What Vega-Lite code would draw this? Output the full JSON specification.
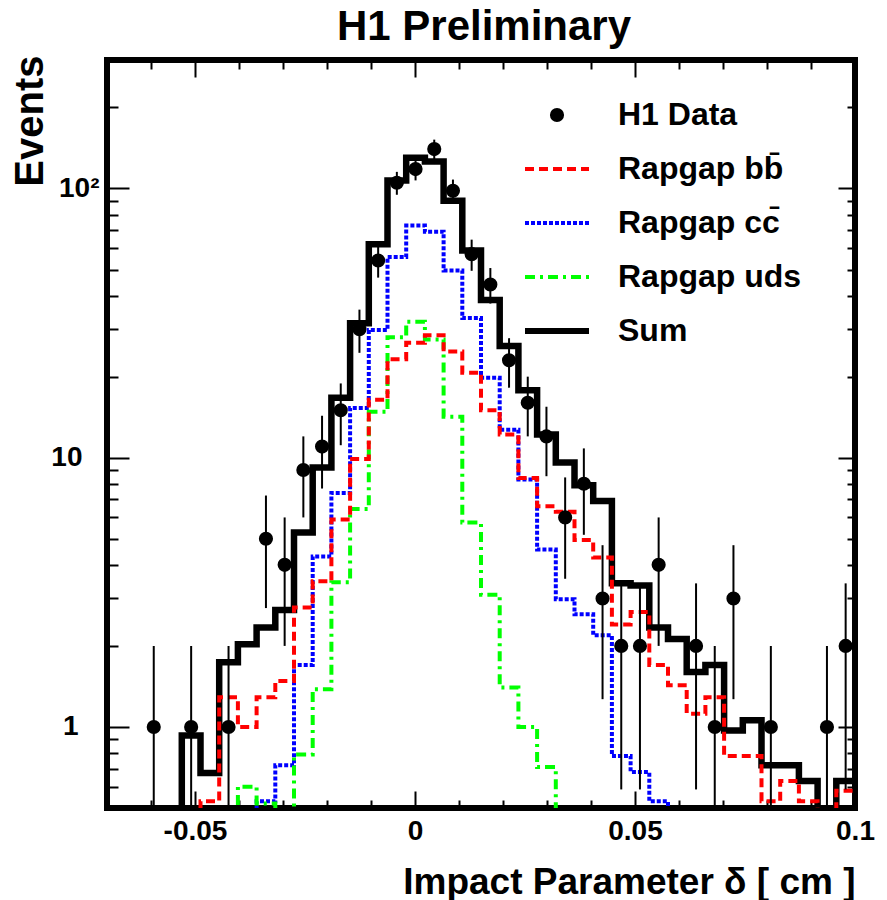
{
  "$schema": "https://vega.github.io/schema/vega-lite/v6.json",
  "width": 748,
  "height": 748,
  "autosize": {"type": "none"},
  "padding": {"left": 107, "top": 60, "right": 32, "bottom": 92},
  "background": "white",
  "title": {"text": "H1 Preliminary", "font": "Liberation Sans", "fontSize": 42, "fontWeight": "bold", "anchor": "middle", "frame": "group", "baseline": "alphabetic", "offset": -27, "dx": 3, "color": "black"},
  "config": {
    "view": {"stroke": "black", "strokeWidth": 6},
    "axis": {"grid": false, "domain": false, "tickColor": "black", "tickWidth": 2, "labelColor": "black", "labelFont": "Liberation Sans", "labelFontWeight": "bold", "labelFontSize": 28, "titleFont": "Liberation Sans", "titleFontWeight": "bold", "titleColor": "black"}
  },
  "datasets": {
    "hist": [
      {"x": -0.07, "s": "Sum", "v": 0.1}, {"x": -0.06575, "s": "Sum", "v": 0.1}, {"x": -0.0615, "s": "Sum", "v": 0.1}, {"x": -0.05725, "s": "Sum", "v": 0.1},
      {"x": -0.053, "s": "Sum", "v": 0.93}, {"x": -0.04875, "s": "Sum", "v": 0.675}, {"x": -0.0445, "s": "Sum", "v": 1.74}, {"x": -0.04025, "s": "Sum", "v": 2.03},
      {"x": -0.036, "s": "Sum", "v": 2.34}, {"x": -0.03175, "s": "Sum", "v": 2.72}, {"x": -0.0275, "s": "Sum", "v": 5.27}, {"x": -0.02325, "s": "Sum", "v": 9.2},
      {"x": -0.019, "s": "Sum", "v": 16.7}, {"x": -0.01475, "s": "Sum", "v": 31.6}, {"x": -0.0105, "s": "Sum", "v": 62}, {"x": -0.00625, "s": "Sum", "v": 107},
      {"x": -0.002, "s": "Sum", "v": 130}, {"x": 0.00225, "s": "Sum", "v": 126}, {"x": 0.0065, "s": "Sum", "v": 90}, {"x": 0.01075, "s": "Sum", "v": 58.8},
      {"x": 0.015, "s": "Sum", "v": 38.5}, {"x": 0.01925, "s": "Sum", "v": 26}, {"x": 0.0235, "s": "Sum", "v": 17.8}, {"x": 0.02775, "s": "Sum", "v": 12.2},
      {"x": 0.032, "s": "Sum", "v": 9.6}, {"x": 0.03625, "s": "Sum", "v": 7.9}, {"x": 0.0405, "s": "Sum", "v": 6.9}, {"x": 0.04475, "s": "Sum", "v": 3.42},
      {"x": 0.049, "s": "Sum", "v": 3.35}, {"x": 0.05325, "s": "Sum", "v": 2.34}, {"x": 0.0575, "s": "Sum", "v": 2.12}, {"x": 0.06175, "s": "Sum", "v": 1.6},
      {"x": 0.066, "s": "Sum", "v": 1.7}, {"x": 0.07025, "s": "Sum", "v": 0.97}, {"x": 0.0745, "s": "Sum", "v": 1.06}, {"x": 0.07875, "s": "Sum", "v": 0.72},
      {"x": 0.083, "s": "Sum", "v": 0.72}, {"x": 0.08725, "s": "Sum", "v": 0.63}, {"x": 0.0915, "s": "Sum", "v": 0.1}, {"x": 0.09575, "s": "Sum", "v": 0.63},
      {"x": 0.1, "s": "Sum", "v": 0.63},

      {"x": -0.07, "s": "Rapgap cc̄", "v": 0.1}, {"x": -0.06575, "s": "Rapgap cc̄", "v": 0.1}, {"x": -0.0615, "s": "Rapgap cc̄", "v": 0.1}, {"x": -0.05725, "s": "Rapgap cc̄", "v": 0.1},
      {"x": -0.053, "s": "Rapgap cc̄", "v": 0.1}, {"x": -0.04875, "s": "Rapgap cc̄", "v": 0.1}, {"x": -0.0445, "s": "Rapgap cc̄", "v": 0.1}, {"x": -0.04025, "s": "Rapgap cc̄", "v": 0.1},
      {"x": -0.036, "s": "Rapgap cc̄", "v": 0.53}, {"x": -0.03175, "s": "Rapgap cc̄", "v": 0.72}, {"x": -0.0275, "s": "Rapgap cc̄", "v": 1.7}, {"x": -0.02325, "s": "Rapgap cc̄", "v": 4.3},
      {"x": -0.019, "s": "Rapgap cc̄", "v": 7.4}, {"x": -0.01475, "s": "Rapgap cc̄", "v": 15.3}, {"x": -0.0105, "s": "Rapgap cc̄", "v": 29.8}, {"x": -0.00625, "s": "Rapgap cc̄", "v": 55.7},
      {"x": -0.002, "s": "Rapgap cc̄", "v": 72.8}, {"x": 0.00225, "s": "Rapgap cc̄", "v": 69}, {"x": 0.0065, "s": "Rapgap cc̄", "v": 49.6}, {"x": 0.01075, "s": "Rapgap cc̄", "v": 33},
      {"x": 0.015, "s": "Rapgap cc̄", "v": 19.8}, {"x": 0.01925, "s": "Rapgap cc̄", "v": 12.7}, {"x": 0.0235, "s": "Rapgap cc̄", "v": 8.3}, {"x": 0.02775, "s": "Rapgap cc̄", "v": 4.56},
      {"x": 0.032, "s": "Rapgap cc̄", "v": 2.98}, {"x": 0.03625, "s": "Rapgap cc̄", "v": 2.62}, {"x": 0.0405, "s": "Rapgap cc̄", "v": 2.19}, {"x": 0.04475, "s": "Rapgap cc̄", "v": 0.78},
      {"x": 0.049, "s": "Rapgap cc̄", "v": 0.68}, {"x": 0.05325, "s": "Rapgap cc̄", "v": 0.53}, {"x": 0.0575, "s": "Rapgap cc̄", "v": 0.1}, {"x": 0.06175, "s": "Rapgap cc̄", "v": 0.1},
      {"x": 0.066, "s": "Rapgap cc̄", "v": 0.1}, {"x": 0.07025, "s": "Rapgap cc̄", "v": 0.1}, {"x": 0.0745, "s": "Rapgap cc̄", "v": 0.1}, {"x": 0.07875, "s": "Rapgap cc̄", "v": 0.1},
      {"x": 0.083, "s": "Rapgap cc̄", "v": 0.1}, {"x": 0.08725, "s": "Rapgap cc̄", "v": 0.1}, {"x": 0.0915, "s": "Rapgap cc̄", "v": 0.1}, {"x": 0.09575, "s": "Rapgap cc̄", "v": 0.1},
      {"x": 0.1, "s": "Rapgap cc̄", "v": 0.1},

      {"x": -0.07, "s": "Rapgap uds", "v": 0.1}, {"x": -0.06575, "s": "Rapgap uds", "v": 0.1}, {"x": -0.0615, "s": "Rapgap uds", "v": 0.1}, {"x": -0.05725, "s": "Rapgap uds", "v": 0.1},
      {"x": -0.053, "s": "Rapgap uds", "v": 0.1}, {"x": -0.04875, "s": "Rapgap uds", "v": 0.1}, {"x": -0.0445, "s": "Rapgap uds", "v": 0.1}, {"x": -0.04025, "s": "Rapgap uds", "v": 0.6},
      {"x": -0.036, "s": "Rapgap uds", "v": 0.52}, {"x": -0.03175, "s": "Rapgap uds", "v": 0.48}, {"x": -0.0275, "s": "Rapgap uds", "v": 0.79}, {"x": -0.02325, "s": "Rapgap uds", "v": 1.38},
      {"x": -0.019, "s": "Rapgap uds", "v": 3.45}, {"x": -0.01475, "s": "Rapgap uds", "v": 6.45}, {"x": -0.0105, "s": "Rapgap uds", "v": 14.8}, {"x": -0.00625, "s": "Rapgap uds", "v": 28},
      {"x": -0.002, "s": "Rapgap uds", "v": 32}, {"x": 0.00225, "s": "Rapgap uds", "v": 27.5}, {"x": 0.0065, "s": "Rapgap uds", "v": 14.2}, {"x": 0.01075, "s": "Rapgap uds", "v": 5.74},
      {"x": 0.015, "s": "Rapgap uds", "v": 3.1}, {"x": 0.01925, "s": "Rapgap uds", "v": 1.4}, {"x": 0.0235, "s": "Rapgap uds", "v": 1.0}, {"x": 0.02775, "s": "Rapgap uds", "v": 0.71},
      {"x": 0.032, "s": "Rapgap uds", "v": 0.1}, {"x": 0.03625, "s": "Rapgap uds", "v": 0.1}, {"x": 0.0405, "s": "Rapgap uds", "v": 0.1}, {"x": 0.04475, "s": "Rapgap uds", "v": 0.1},
      {"x": 0.049, "s": "Rapgap uds", "v": 0.1}, {"x": 0.05325, "s": "Rapgap uds", "v": 0.1}, {"x": 0.0575, "s": "Rapgap uds", "v": 0.1}, {"x": 0.06175, "s": "Rapgap uds", "v": 0.1},
      {"x": 0.066, "s": "Rapgap uds", "v": 0.1}, {"x": 0.07025, "s": "Rapgap uds", "v": 0.1}, {"x": 0.0745, "s": "Rapgap uds", "v": 0.1}, {"x": 0.07875, "s": "Rapgap uds", "v": 0.1},
      {"x": 0.083, "s": "Rapgap uds", "v": 0.1}, {"x": 0.08725, "s": "Rapgap uds", "v": 0.1}, {"x": 0.0915, "s": "Rapgap uds", "v": 0.1}, {"x": 0.09575, "s": "Rapgap uds", "v": 0.1},
      {"x": 0.1, "s": "Rapgap uds", "v": 0.1},

      {"x": -0.07, "s": "Rapgap bb̄", "v": 0.1}, {"x": -0.06575, "s": "Rapgap bb̄", "v": 0.1}, {"x": -0.0615, "s": "Rapgap bb̄", "v": 0.1}, {"x": -0.05725, "s": "Rapgap bb̄", "v": 0.1},
      {"x": -0.053, "s": "Rapgap bb̄", "v": 0.1}, {"x": -0.04875, "s": "Rapgap bb̄", "v": 0.53}, {"x": -0.0445, "s": "Rapgap bb̄", "v": 1.29}, {"x": -0.04025, "s": "Rapgap bb̄", "v": 1.0},
      {"x": -0.036, "s": "Rapgap bb̄", "v": 1.29}, {"x": -0.03175, "s": "Rapgap bb̄", "v": 1.48}, {"x": -0.0275, "s": "Rapgap bb̄", "v": 2.78}, {"x": -0.02325, "s": "Rapgap bb̄", "v": 3.48},
      {"x": -0.019, "s": "Rapgap bb̄", "v": 5.9}, {"x": -0.01475, "s": "Rapgap bb̄", "v": 9.9}, {"x": -0.0105, "s": "Rapgap bb̄", "v": 16.4}, {"x": -0.00625, "s": "Rapgap bb̄", "v": 23.2},
      {"x": -0.002, "s": "Rapgap bb̄", "v": 26.7}, {"x": 0.00225, "s": "Rapgap bb̄", "v": 28.5}, {"x": 0.0065, "s": "Rapgap bb̄", "v": 24.8}, {"x": 0.01075, "s": "Rapgap bb̄", "v": 20.7},
      {"x": 0.015, "s": "Rapgap bb̄", "v": 15}, {"x": 0.01925, "s": "Rapgap bb̄", "v": 12.2}, {"x": 0.0235, "s": "Rapgap bb̄", "v": 8.4}, {"x": 0.02775, "s": "Rapgap bb̄", "v": 6.6},
      {"x": 0.032, "s": "Rapgap bb̄", "v": 6.3}, {"x": 0.03625, "s": "Rapgap bb̄", "v": 4.95}, {"x": 0.0405, "s": "Rapgap bb̄", "v": 4.26}, {"x": 0.04475, "s": "Rapgap bb̄", "v": 2.4},
      {"x": 0.049, "s": "Rapgap bb̄", "v": 2.67}, {"x": 0.05325, "s": "Rapgap bb̄", "v": 1.7}, {"x": 0.0575, "s": "Rapgap bb̄", "v": 1.43}, {"x": 0.06175, "s": "Rapgap bb̄", "v": 1.12},
      {"x": 0.066, "s": "Rapgap bb̄", "v": 1.29}, {"x": 0.07025, "s": "Rapgap bb̄", "v": 0.78}, {"x": 0.0745, "s": "Rapgap bb̄", "v": 0.78}, {"x": 0.07875, "s": "Rapgap bb̄", "v": 0.53},
      {"x": 0.083, "s": "Rapgap bb̄", "v": 0.63}, {"x": 0.08725, "s": "Rapgap bb̄", "v": 0.53}, {"x": 0.0915, "s": "Rapgap bb̄", "v": 0.1}, {"x": 0.09575, "s": "Rapgap bb̄", "v": 0.58},
      {"x": 0.1, "s": "Rapgap bb̄", "v": 0.58}
    ],
    "pts": [
      {"c": -0.059375, "n": 1, "lo": 0.01, "hi": 2},
      {"c": -0.050875, "n": 1, "lo": 0.01, "hi": 2},
      {"c": -0.042375, "n": 1, "lo": 0.01, "hi": 2},
      {"c": -0.033875, "n": 5, "lo": 2.764, "hi": 7.236},
      {"c": -0.029625, "n": 4, "lo": 2, "hi": 6},
      {"c": -0.025375, "n": 9, "lo": 6, "hi": 12},
      {"c": -0.021125, "n": 11, "lo": 7.683, "hi": 14.317},
      {"c": -0.016875, "n": 15, "lo": 11.127, "hi": 18.873},
      {"c": -0.012625, "n": 30, "lo": 24.523, "hi": 35.477},
      {"c": -0.008375, "n": 54, "lo": 46.652, "hi": 61.348},
      {"c": -0.004125, "n": 105, "lo": 94.753, "hi": 115.247},
      {"c": 0.000125, "n": 118, "lo": 107.137, "hi": 128.863},
      {"c": 0.004375, "n": 140, "lo": 128.168, "hi": 151.832},
      {"c": 0.008625, "n": 98, "lo": 88.1, "hi": 107.9},
      {"c": 0.012875, "n": 57, "lo": 49.45, "hi": 64.55},
      {"c": 0.017125, "n": 44, "lo": 37.367, "hi": 50.633},
      {"c": 0.021375, "n": 23, "lo": 18.204, "hi": 27.796},
      {"c": 0.025625, "n": 16, "lo": 12, "hi": 20},
      {"c": 0.029875, "n": 12, "lo": 8.536, "hi": 15.464},
      {"c": 0.034125, "n": 6, "lo": 3.551, "hi": 8.449},
      {"c": 0.038375, "n": 8, "lo": 5.172, "hi": 10.828},
      {"c": 0.042625, "n": 3, "lo": 1.268, "hi": 4.732},
      {"c": 0.046875, "n": 2, "lo": 0.586, "hi": 3.414},
      {"c": 0.051125, "n": 2, "lo": 0.586, "hi": 3.414},
      {"c": 0.055375, "n": 4, "lo": 2, "hi": 6},
      {"c": 0.063875, "n": 2, "lo": 0.586, "hi": 3.414},
      {"c": 0.068125, "n": 1, "lo": 0.01, "hi": 2},
      {"c": 0.072375, "n": 3, "lo": 1.268, "hi": 4.732},
      {"c": 0.080875, "n": 1, "lo": 0.01, "hi": 2},
      {"c": 0.093625, "n": 1, "lo": 0.01, "hi": 2},
      {"c": 0.097875, "n": 2, "lo": 0.586, "hi": 3.414}
    ]
  },
  "layer": [
    {
      "data": {"name": "hist"},
      "mark": {"type": "line", "interpolate": "step-after", "clip": true},
      "encoding": {
        "x": {"field": "x", "type": "quantitative", "scale": {"domain": [-0.07, 0.1], "nice": false, "zero": false},
          "axis": {"orient": "bottom", "values": [-0.05, 0, 0.05, 0.1], "ticks": false, "labelPadding": 9, "labelFlush": false, "labelOverlap": false, "labelBound": false,
            "labelExpr": "datum.value < -0.02 ? '-0.05' : (datum.value < 0.02 ? '0' : (datum.value < 0.07 ? '0.05' : '0.1'))",
            "title": "Impact Parameter δ [ cm ]", "titleFontSize": 37, "titleAlign": "right", "titleBaseline": "alphabetic", "titleX": 748, "titleY": 85, "titleAngle": 0}},
        "y": {"field": "v", "type": "quantitative", "scale": {"type": "log", "domain": [0.5, 300], "nice": false},
          "axis": {"orient": "left", "values": [1, 10, 100], "ticks": false, "labelOverlap": false, "labelFlush": false,
            "labelExpr": "datum.value > 50 ? '10²' : (datum.value > 5 ? '10' : '1')",
            "labelPadding": {"condition": [{"test": "datum.value > 50", "value": 8}, {"test": "datum.value > 5", "value": 25}], "value": 29},
            "title": "Events", "titleFontSize": 40, "titleAngle": 270, "titleAlign": "right", "titleBaseline": "middle", "titleX": -77, "titleY": -5}},
        "color": {"field": "s", "type": "nominal",
          "scale": {"domain": ["H1 Data", "Rapgap bb̄", "Rapgap cc̄", "Rapgap uds", "Sum"], "range": ["black", "#ff0000", "#0000ff", "#00ff00", "black"]},
          "legend": {"orient": "none", "legendX": 434, "legendY": 39, "title": null, "padding": 0, "symbolSize": 1024, "labelFont": "Liberation Sans", "labelFontSize": 32, "labelFontWeight": "bold", "labelColor": "black", "labelOffset": 45, "rowPadding": 22, "labelLimit": 0,
            "encode": {"symbols": {"update": {
              "shape": {"signal": "datum.value === 'H1 Data' ? 'circle' : 'M-2,0H2'"},
              "size": {"signal": "datum.value === 'H1 Data' ? 200 : 1024"},
              "fill": {"signal": "datum.value === 'H1 Data' ? 'black' : 'transparent'"},
              "strokeWidth": {"signal": "datum.value === 'H1 Data' ? 0 : (datum.value === 'Sum' ? 6 : 4)"}
            }}}}},
        "strokeDash": {"field": "s", "type": "nominal",
          "scale": {"domain": ["H1 Data", "Rapgap bb̄", "Rapgap cc̄", "Rapgap uds", "Sum"], "range": [[1, 0], [9, 5], [4, 2], [10, 5, 3, 5], [1, 0]]},
          "legend": {"orient": "none", "legendX": 434, "legendY": 39, "title": null, "padding": 0, "symbolSize": 1024, "labelFont": "Liberation Sans", "labelFontSize": 32, "labelFontWeight": "bold", "labelColor": "black", "labelOffset": 45, "rowPadding": 22, "labelLimit": 0,
            "encode": {"symbols": {"update": {
              "shape": {"signal": "datum.value === 'H1 Data' ? 'circle' : 'M-2,0H2'"},
              "size": {"signal": "datum.value === 'H1 Data' ? 200 : 1024"},
              "fill": {"signal": "datum.value === 'H1 Data' ? 'black' : 'transparent'"},
              "strokeWidth": {"signal": "datum.value === 'H1 Data' ? 0 : (datum.value === 'Sum' ? 6 : 4)"}
            }}}}},
        "strokeWidth": {"condition": {"test": "datum.s === 'Sum'", "value": 6.5}, "value": 4}
      }
    },
    {
      "data": {"name": "pts"},
      "mark": {"type": "rule", "strokeWidth": 2, "color": "black", "clip": true},
      "encoding": {
        "x": {"field": "c", "type": "quantitative", "scale": {"domain": [-0.07, 0.1], "nice": false, "zero": false},
          "axis": {"orient": "bottom", "values": [-0.05, 0, 0.05, 0.1], "labels": false, "tickSize": -17, "title": null}},
        "y": {"field": "lo", "type": "quantitative", "scale": {"type": "log", "domain": [0.5, 300], "nice": false},
          "axis": {"orient": "left", "values": [1, 10, 100], "labels": false, "tickSize": -22, "title": null}},
        "y2": {"field": "hi"}
      }
    },
    {
      "data": {"name": "pts"},
      "mark": {"type": "point", "filled": true, "shape": "circle", "size": 200, "color": "black", "opacity": 1},
      "encoding": {
        "x": {"field": "c", "type": "quantitative", "scale": {"domain": [-0.07, 0.1], "nice": false, "zero": false},
          "axis": {"orient": "bottom", "values": [-0.06, -0.04, -0.03, -0.02, -0.01, 0.01, 0.02, 0.03, 0.04, 0.06, 0.07, 0.08, 0.09], "labels": false, "tickSize": -8, "title": null}},
        "y": {"field": "n", "type": "quantitative", "scale": {"type": "log", "domain": [0.5, 300], "nice": false},
          "axis": {"orient": "left", "values": [0.6, 0.7, 0.8, 0.9, 2, 3, 4, 5, 6, 7, 8, 9, 20, 30, 40, 50, 60, 70, 80, 90, 200], "labels": false, "tickSize": -11, "title": null}}
      }
    },
    {
      "data": {"name": "pts"},
      "mark": {"type": "point", "opacity": 0},
      "encoding": {
        "x": {"field": "c", "type": "quantitative", "scale": {"domain": [-0.07, 0.1], "nice": false, "zero": false},
          "axis": {"orient": "top", "values": [-0.05, 0, 0.05, 0.1], "labels": false, "tickSize": -17, "title": null}},
        "y": {"field": "n", "type": "quantitative", "scale": {"type": "log", "domain": [0.5, 300], "nice": false},
          "axis": {"orient": "right", "values": [1, 10, 100], "labels": false, "tickSize": -17, "title": null}}
      }
    },
    {
      "data": {"name": "pts"},
      "mark": {"type": "point", "opacity": 0},
      "encoding": {
        "x": {"field": "c", "type": "quantitative", "scale": {"domain": [-0.07, 0.1], "nice": false, "zero": false},
          "axis": {"orient": "top", "values": [-0.06, -0.04, -0.03, -0.02, -0.01, 0.01, 0.02, 0.03, 0.04, 0.06, 0.07, 0.08, 0.09], "labels": false, "tickSize": -9, "title": null}},
        "y": {"field": "n", "type": "quantitative", "scale": {"type": "log", "domain": [0.5, 300], "nice": false},
          "axis": {"orient": "right", "values": [0.6, 0.7, 0.8, 0.9, 2, 3, 4, 5, 6, 7, 8, 9, 20, 30, 40, 50, 60, 70, 80, 90, 200], "labels": false, "tickSize": -8, "title": null}}
      }
    }
  ],
  "resolve": {"axis": {"x": "independent", "y": "independent"}}
}
